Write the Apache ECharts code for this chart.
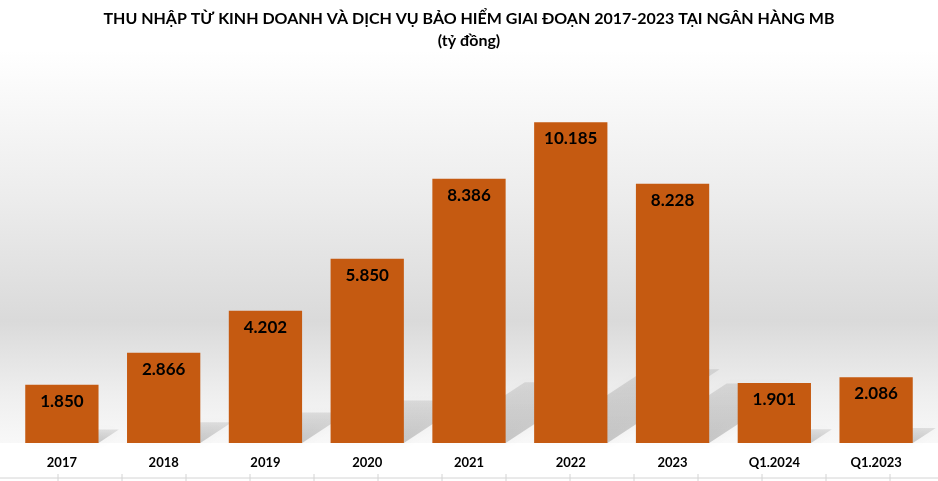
<!DOCTYPE html>
<html>
<head>
<meta charset="utf-8">
<script src="https://cdn.jsdelivr.net/npm/echarts@6/dist/echarts.min.js"></script>
<style>
  html, body { margin: 0; padding: 0; background: #fff; }
  #chart { width: 938px; height: 481px; }
</style>
</head>
<body>
<div id="chart"></div>
<script>
// danh mục và số liệu (tỷ đồng)
var categories = ['2017', '2018', '2019', '2020', '2021', '2022', '2023', 'Q1.2024', 'Q1.2023']
var incomeValues = [1850, 2866, 4202, 5850, 8386, 10185, 8228, 1901, 2086]

var barColor = '#C55A11'
var fontFamily = 'Lato, "Open Sans", sans-serif'

// 1850 -> "1.850"
function fmt (v) {
    return String(v).replace(/\B(?=(\d{3})+(?!\d))/g, '.')
}

var myChart = echarts.init(document.getElementById('chart'))

// bóng đổ phối cảnh phía sau mỗi cột
function renderShadow (params, api) {
    var idx = api.value(0)
    var top = api.coord([idx, api.value(1)])
    var base = api.coord([idx, 0])
    var band = api.size([1, 0])[0]
    var w = band * 0.72
    var h = base[1] - top[1]
    var x0 = base[0] - w / 2
    var x1 = base[0] + w / 2
    var dx = h * 0.35
    var dy = h * 0.23
    return {
        type: 'polygon',
        shape: {
            points: [[x0, base[1]], [x1, base[1]], [x1 + dx, base[1] - dy], [x0 + dx, base[1] - dy]]
        },
        style: {
            fill: new echarts.graphic.LinearGradient(0, 1, 0, 0, [
                { offset: 0, color: 'rgba(0,0,0,0.19)' },
                { offset: 1, color: 'rgba(0,0,0,0.09)' }
            ]),
            shadowBlur: 8,
            shadowColor: 'rgba(0,0,0,0.15)'
        }
    }
}

var shadowData = incomeValues.map(function (v, i) { return [i, v] })

// đường lưới ô ở đáy
var cellTicks = []
for (var x = 58; x < 938; x += 64) {
    cellTicks.push({
        type: 'line',
        shape: { x1: x, y1: 474, x2: x, y2: 481 },
        style: { stroke: '#d4d4d4', lineWidth: 1 },
        silent: true
    })
}

myChart.setOption({
    backgroundColor: '#ffffff',
    animation: false,
    title: {
        text: 'THU NHẬP TỪ KINH DOANH VÀ DỊCH VỤ BẢO HIỂM GIAI ĐOẠN 2017-2023 TẠI NGÂN HÀNG MB\n(tỷ đồng)',
        left: 'center',
        top: 3,
        textStyle: {
            fontFamily: fontFamily,
            fontSize: 16,
            fontWeight: 'bold',
            color: '#000',
            lineHeight: 22
        }
    },
    graphic: [
        {
            type: 'rect',
            z: -10,
            silent: true,
            shape: { x: 0, y: 50, width: 938, height: 393 },
            style: {
                fill: new echarts.graphic.LinearGradient(0, 0, 0, 1, [
                    { offset: 0, color: '#ffffff' },
                    { offset: 0.38, color: '#ececec' },
                    { offset: 0.69, color: '#dadada' },
                    { offset: 0.88, color: '#efefef' },
                    { offset: 1, color: '#f8f8f8' }
                ])
            }
        },
        {
            type: 'line',
            silent: true,
            shape: { x1: 0, y1: 478, x2: 938, y2: 478 },
            style: { stroke: '#d4d4d4', lineWidth: 1 }
        }
    ].concat(cellTicks),
    grid: {
        left: 11,
        right: 11,
        top: 65,
        bottom: 38,
        containLabel: false
    },
    xAxis: {
        type: 'category',
        data: categories,
        axisLine: { show: false },
        axisTick: { show: false },
        axisLabel: {
            margin: 13,
            fontFamily: fontFamily,
            fontSize: 13,
            fontWeight: 'bold',
            color: '#000'
        }
    },
    yAxis: {
        type: 'value',
        min: 0,
        max: 12000,
        show: false,
        splitLine: { show: false }
    },
    series: [
        {
            type: 'custom',
            renderItem: renderShadow,
            data: shadowData,
            z: 1,
            silent: true
        },
        {
            type: 'bar',
            data: incomeValues,
            barWidth: '72%',
            z: 2,
            itemStyle: { color: barColor },
            label: {
                show: true,
                position: 'insideTop',
                distance: 8,
                formatter: function (p) { return fmt(p.value) },
                fontFamily: fontFamily,
                fontSize: 17,
                fontWeight: 'bold',
                color: '#000'
            }
        }
    ]
})
</script>
</body>
</html>
